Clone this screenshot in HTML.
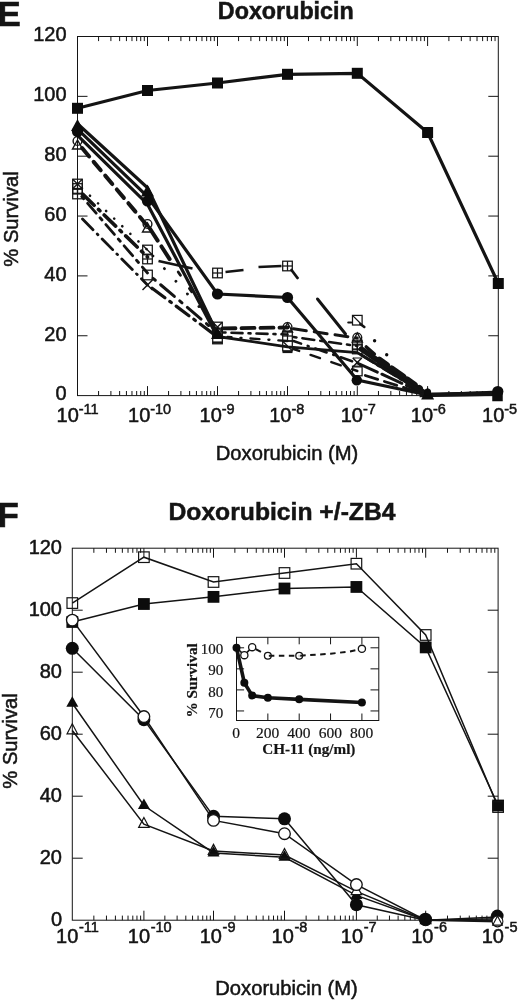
<!DOCTYPE html>
<html><head><meta charset="utf-8"><title>Doxorubicin survival curves</title>
<style>html,body{margin:0;padding:0;background:#fff}svg{display:block}</style>
</head><body>
<svg width="520" height="1002" viewBox="0 0 520 1002">
<rect width="520" height="1002" fill="#fff"/>
<rect x="77.5" y="36.5" width="420.8" height="359.1" fill="none" stroke="#141414" stroke-width="1"/>
<line x1="98.57" y1="36.50" x2="98.57" y2="41.10" stroke="#141414" stroke-width="1" />
<line x1="110.90" y1="36.50" x2="110.90" y2="41.10" stroke="#141414" stroke-width="1" />
<line x1="119.64" y1="36.50" x2="119.64" y2="41.10" stroke="#141414" stroke-width="1" />
<line x1="126.43" y1="36.50" x2="126.43" y2="41.10" stroke="#141414" stroke-width="1" />
<line x1="131.97" y1="36.50" x2="131.97" y2="41.10" stroke="#141414" stroke-width="1" />
<line x1="136.66" y1="36.50" x2="136.66" y2="41.10" stroke="#141414" stroke-width="1" />
<line x1="140.72" y1="36.50" x2="140.72" y2="41.10" stroke="#141414" stroke-width="1" />
<line x1="144.30" y1="36.50" x2="144.30" y2="41.10" stroke="#141414" stroke-width="1" />
<line x1="147.50" y1="36.50" x2="147.50" y2="46.00" stroke="#141414" stroke-width="1" />
<line x1="168.57" y1="36.50" x2="168.57" y2="41.10" stroke="#141414" stroke-width="1" />
<line x1="180.90" y1="36.50" x2="180.90" y2="41.10" stroke="#141414" stroke-width="1" />
<line x1="189.64" y1="36.50" x2="189.64" y2="41.10" stroke="#141414" stroke-width="1" />
<line x1="196.43" y1="36.50" x2="196.43" y2="41.10" stroke="#141414" stroke-width="1" />
<line x1="201.97" y1="36.50" x2="201.97" y2="41.10" stroke="#141414" stroke-width="1" />
<line x1="206.66" y1="36.50" x2="206.66" y2="41.10" stroke="#141414" stroke-width="1" />
<line x1="210.72" y1="36.50" x2="210.72" y2="41.10" stroke="#141414" stroke-width="1" />
<line x1="214.30" y1="36.50" x2="214.30" y2="41.10" stroke="#141414" stroke-width="1" />
<line x1="217.50" y1="36.50" x2="217.50" y2="46.00" stroke="#141414" stroke-width="1" />
<line x1="238.57" y1="36.50" x2="238.57" y2="41.10" stroke="#141414" stroke-width="1" />
<line x1="250.90" y1="36.50" x2="250.90" y2="41.10" stroke="#141414" stroke-width="1" />
<line x1="259.64" y1="36.50" x2="259.64" y2="41.10" stroke="#141414" stroke-width="1" />
<line x1="266.43" y1="36.50" x2="266.43" y2="41.10" stroke="#141414" stroke-width="1" />
<line x1="271.97" y1="36.50" x2="271.97" y2="41.10" stroke="#141414" stroke-width="1" />
<line x1="276.66" y1="36.50" x2="276.66" y2="41.10" stroke="#141414" stroke-width="1" />
<line x1="280.72" y1="36.50" x2="280.72" y2="41.10" stroke="#141414" stroke-width="1" />
<line x1="284.30" y1="36.50" x2="284.30" y2="41.10" stroke="#141414" stroke-width="1" />
<line x1="287.50" y1="36.50" x2="287.50" y2="46.00" stroke="#141414" stroke-width="1" />
<line x1="308.51" y1="36.50" x2="308.51" y2="41.10" stroke="#141414" stroke-width="1" />
<line x1="320.80" y1="36.50" x2="320.80" y2="41.10" stroke="#141414" stroke-width="1" />
<line x1="329.52" y1="36.50" x2="329.52" y2="41.10" stroke="#141414" stroke-width="1" />
<line x1="336.29" y1="36.50" x2="336.29" y2="41.10" stroke="#141414" stroke-width="1" />
<line x1="341.81" y1="36.50" x2="341.81" y2="41.10" stroke="#141414" stroke-width="1" />
<line x1="346.49" y1="36.50" x2="346.49" y2="41.10" stroke="#141414" stroke-width="1" />
<line x1="350.54" y1="36.50" x2="350.54" y2="41.10" stroke="#141414" stroke-width="1" />
<line x1="354.11" y1="36.50" x2="354.11" y2="41.10" stroke="#141414" stroke-width="1" />
<line x1="357.30" y1="36.50" x2="357.30" y2="46.00" stroke="#141414" stroke-width="1" />
<line x1="378.46" y1="36.50" x2="378.46" y2="41.10" stroke="#141414" stroke-width="1" />
<line x1="390.84" y1="36.50" x2="390.84" y2="41.10" stroke="#141414" stroke-width="1" />
<line x1="399.62" y1="36.50" x2="399.62" y2="41.10" stroke="#141414" stroke-width="1" />
<line x1="406.44" y1="36.50" x2="406.44" y2="41.10" stroke="#141414" stroke-width="1" />
<line x1="412.00" y1="36.50" x2="412.00" y2="41.10" stroke="#141414" stroke-width="1" />
<line x1="416.71" y1="36.50" x2="416.71" y2="41.10" stroke="#141414" stroke-width="1" />
<line x1="420.79" y1="36.50" x2="420.79" y2="41.10" stroke="#141414" stroke-width="1" />
<line x1="424.38" y1="36.50" x2="424.38" y2="41.10" stroke="#141414" stroke-width="1" />
<line x1="427.60" y1="36.50" x2="427.60" y2="46.00" stroke="#141414" stroke-width="1" />
<line x1="448.88" y1="36.50" x2="448.88" y2="41.10" stroke="#141414" stroke-width="1" />
<line x1="461.33" y1="36.50" x2="461.33" y2="41.10" stroke="#141414" stroke-width="1" />
<line x1="470.17" y1="36.50" x2="470.17" y2="41.10" stroke="#141414" stroke-width="1" />
<line x1="477.02" y1="36.50" x2="477.02" y2="41.10" stroke="#141414" stroke-width="1" />
<line x1="482.62" y1="36.50" x2="482.62" y2="41.10" stroke="#141414" stroke-width="1" />
<line x1="487.35" y1="36.50" x2="487.35" y2="41.10" stroke="#141414" stroke-width="1" />
<line x1="491.45" y1="36.50" x2="491.45" y2="41.10" stroke="#141414" stroke-width="1" />
<line x1="495.06" y1="36.50" x2="495.06" y2="41.10" stroke="#141414" stroke-width="1" />
<line x1="98.57" y1="395.60" x2="98.57" y2="391.00" stroke="#141414" stroke-width="1" />
<line x1="110.90" y1="395.60" x2="110.90" y2="391.00" stroke="#141414" stroke-width="1" />
<line x1="119.64" y1="395.60" x2="119.64" y2="391.00" stroke="#141414" stroke-width="1" />
<line x1="126.43" y1="395.60" x2="126.43" y2="391.00" stroke="#141414" stroke-width="1" />
<line x1="131.97" y1="395.60" x2="131.97" y2="391.00" stroke="#141414" stroke-width="1" />
<line x1="136.66" y1="395.60" x2="136.66" y2="391.00" stroke="#141414" stroke-width="1" />
<line x1="140.72" y1="395.60" x2="140.72" y2="391.00" stroke="#141414" stroke-width="1" />
<line x1="144.30" y1="395.60" x2="144.30" y2="391.00" stroke="#141414" stroke-width="1" />
<line x1="147.50" y1="395.60" x2="147.50" y2="386.10" stroke="#141414" stroke-width="1" />
<line x1="168.57" y1="395.60" x2="168.57" y2="391.00" stroke="#141414" stroke-width="1" />
<line x1="180.90" y1="395.60" x2="180.90" y2="391.00" stroke="#141414" stroke-width="1" />
<line x1="189.64" y1="395.60" x2="189.64" y2="391.00" stroke="#141414" stroke-width="1" />
<line x1="196.43" y1="395.60" x2="196.43" y2="391.00" stroke="#141414" stroke-width="1" />
<line x1="201.97" y1="395.60" x2="201.97" y2="391.00" stroke="#141414" stroke-width="1" />
<line x1="206.66" y1="395.60" x2="206.66" y2="391.00" stroke="#141414" stroke-width="1" />
<line x1="210.72" y1="395.60" x2="210.72" y2="391.00" stroke="#141414" stroke-width="1" />
<line x1="214.30" y1="395.60" x2="214.30" y2="391.00" stroke="#141414" stroke-width="1" />
<line x1="217.50" y1="395.60" x2="217.50" y2="386.10" stroke="#141414" stroke-width="1" />
<line x1="238.57" y1="395.60" x2="238.57" y2="391.00" stroke="#141414" stroke-width="1" />
<line x1="250.90" y1="395.60" x2="250.90" y2="391.00" stroke="#141414" stroke-width="1" />
<line x1="259.64" y1="395.60" x2="259.64" y2="391.00" stroke="#141414" stroke-width="1" />
<line x1="266.43" y1="395.60" x2="266.43" y2="391.00" stroke="#141414" stroke-width="1" />
<line x1="271.97" y1="395.60" x2="271.97" y2="391.00" stroke="#141414" stroke-width="1" />
<line x1="276.66" y1="395.60" x2="276.66" y2="391.00" stroke="#141414" stroke-width="1" />
<line x1="280.72" y1="395.60" x2="280.72" y2="391.00" stroke="#141414" stroke-width="1" />
<line x1="284.30" y1="395.60" x2="284.30" y2="391.00" stroke="#141414" stroke-width="1" />
<line x1="287.50" y1="395.60" x2="287.50" y2="386.10" stroke="#141414" stroke-width="1" />
<line x1="308.51" y1="395.60" x2="308.51" y2="391.00" stroke="#141414" stroke-width="1" />
<line x1="320.80" y1="395.60" x2="320.80" y2="391.00" stroke="#141414" stroke-width="1" />
<line x1="329.52" y1="395.60" x2="329.52" y2="391.00" stroke="#141414" stroke-width="1" />
<line x1="336.29" y1="395.60" x2="336.29" y2="391.00" stroke="#141414" stroke-width="1" />
<line x1="341.81" y1="395.60" x2="341.81" y2="391.00" stroke="#141414" stroke-width="1" />
<line x1="346.49" y1="395.60" x2="346.49" y2="391.00" stroke="#141414" stroke-width="1" />
<line x1="350.54" y1="395.60" x2="350.54" y2="391.00" stroke="#141414" stroke-width="1" />
<line x1="354.11" y1="395.60" x2="354.11" y2="391.00" stroke="#141414" stroke-width="1" />
<line x1="357.30" y1="395.60" x2="357.30" y2="386.10" stroke="#141414" stroke-width="1" />
<line x1="378.46" y1="395.60" x2="378.46" y2="391.00" stroke="#141414" stroke-width="1" />
<line x1="390.84" y1="395.60" x2="390.84" y2="391.00" stroke="#141414" stroke-width="1" />
<line x1="399.62" y1="395.60" x2="399.62" y2="391.00" stroke="#141414" stroke-width="1" />
<line x1="406.44" y1="395.60" x2="406.44" y2="391.00" stroke="#141414" stroke-width="1" />
<line x1="412.00" y1="395.60" x2="412.00" y2="391.00" stroke="#141414" stroke-width="1" />
<line x1="416.71" y1="395.60" x2="416.71" y2="391.00" stroke="#141414" stroke-width="1" />
<line x1="420.79" y1="395.60" x2="420.79" y2="391.00" stroke="#141414" stroke-width="1" />
<line x1="424.38" y1="395.60" x2="424.38" y2="391.00" stroke="#141414" stroke-width="1" />
<line x1="427.60" y1="395.60" x2="427.60" y2="386.10" stroke="#141414" stroke-width="1" />
<line x1="448.88" y1="395.60" x2="448.88" y2="391.00" stroke="#141414" stroke-width="1" />
<line x1="461.33" y1="395.60" x2="461.33" y2="391.00" stroke="#141414" stroke-width="1" />
<line x1="470.17" y1="395.60" x2="470.17" y2="391.00" stroke="#141414" stroke-width="1" />
<line x1="477.02" y1="395.60" x2="477.02" y2="391.00" stroke="#141414" stroke-width="1" />
<line x1="482.62" y1="395.60" x2="482.62" y2="391.00" stroke="#141414" stroke-width="1" />
<line x1="487.35" y1="395.60" x2="487.35" y2="391.00" stroke="#141414" stroke-width="1" />
<line x1="491.45" y1="395.60" x2="491.45" y2="391.00" stroke="#141414" stroke-width="1" />
<line x1="495.06" y1="395.60" x2="495.06" y2="391.00" stroke="#141414" stroke-width="1" />
<line x1="77.50" y1="335.75" x2="87.50" y2="335.75" stroke="#141414" stroke-width="1" />
<line x1="498.30" y1="335.75" x2="488.30" y2="335.75" stroke="#141414" stroke-width="1" />
<line x1="77.50" y1="275.90" x2="87.50" y2="275.90" stroke="#141414" stroke-width="1" />
<line x1="498.30" y1="275.90" x2="488.30" y2="275.90" stroke="#141414" stroke-width="1" />
<line x1="77.50" y1="216.05" x2="87.50" y2="216.05" stroke="#141414" stroke-width="1" />
<line x1="498.30" y1="216.05" x2="488.30" y2="216.05" stroke="#141414" stroke-width="1" />
<line x1="77.50" y1="156.20" x2="87.50" y2="156.20" stroke="#141414" stroke-width="1" />
<line x1="498.30" y1="156.20" x2="488.30" y2="156.20" stroke="#141414" stroke-width="1" />
<line x1="77.50" y1="96.35" x2="87.50" y2="96.35" stroke="#141414" stroke-width="1" />
<line x1="498.30" y1="96.35" x2="488.30" y2="96.35" stroke="#141414" stroke-width="1" />
<text x="66.60" y="400.40" font-size="20" text-anchor="end" font-weight="normal" font-family="Liberation Sans, Arial, Helvetica, sans-serif" fill="#141414" stroke="#141414" stroke-width="0.5" >0</text>
<text x="66.60" y="340.55" font-size="20" text-anchor="end" font-weight="normal" font-family="Liberation Sans, Arial, Helvetica, sans-serif" fill="#141414" stroke="#141414" stroke-width="0.5" >20</text>
<text x="66.60" y="280.70" font-size="20" text-anchor="end" font-weight="normal" font-family="Liberation Sans, Arial, Helvetica, sans-serif" fill="#141414" stroke="#141414" stroke-width="0.5" >40</text>
<text x="66.60" y="220.85" font-size="20" text-anchor="end" font-weight="normal" font-family="Liberation Sans, Arial, Helvetica, sans-serif" fill="#141414" stroke="#141414" stroke-width="0.5" >60</text>
<text x="66.60" y="161.00" font-size="20" text-anchor="end" font-weight="normal" font-family="Liberation Sans, Arial, Helvetica, sans-serif" fill="#141414" stroke="#141414" stroke-width="0.5" >80</text>
<text x="66.60" y="101.15" font-size="20" text-anchor="end" font-weight="normal" font-family="Liberation Sans, Arial, Helvetica, sans-serif" fill="#141414" stroke="#141414" stroke-width="0.5" >100</text>
<text x="66.60" y="41.30" font-size="20" text-anchor="end" font-weight="normal" font-family="Liberation Sans, Arial, Helvetica, sans-serif" fill="#141414" stroke="#141414" stroke-width="0.5" >120</text>
<text x="78.80" y="421.80" font-size="20" text-anchor="end" font-weight="normal" font-family="Liberation Sans, Arial, Helvetica, sans-serif" fill="#141414" stroke="#141414" stroke-width="0.5" >10</text>
<text x="78.70" y="413.80" font-size="14.5" text-anchor="start" font-weight="normal" font-family="Liberation Sans, Arial, Helvetica, sans-serif" fill="#141414" stroke="#141414" stroke-width="0.5" >-11</text>
<text x="150.30" y="421.80" font-size="20" text-anchor="end" font-weight="normal" font-family="Liberation Sans, Arial, Helvetica, sans-serif" fill="#141414" stroke="#141414" stroke-width="0.5" >10</text>
<text x="150.20" y="413.80" font-size="14.5" text-anchor="start" font-weight="normal" font-family="Liberation Sans, Arial, Helvetica, sans-serif" fill="#141414" stroke="#141414" stroke-width="0.5" >-10</text>
<text x="221.80" y="421.80" font-size="20" text-anchor="end" font-weight="normal" font-family="Liberation Sans, Arial, Helvetica, sans-serif" fill="#141414" stroke="#141414" stroke-width="0.5" >10</text>
<text x="221.70" y="413.80" font-size="14.5" text-anchor="start" font-weight="normal" font-family="Liberation Sans, Arial, Helvetica, sans-serif" fill="#141414" stroke="#141414" stroke-width="0.5" >-9</text>
<text x="291.50" y="421.80" font-size="20" text-anchor="end" font-weight="normal" font-family="Liberation Sans, Arial, Helvetica, sans-serif" fill="#141414" stroke="#141414" stroke-width="0.5" >10</text>
<text x="291.40" y="413.80" font-size="14.5" text-anchor="start" font-weight="normal" font-family="Liberation Sans, Arial, Helvetica, sans-serif" fill="#141414" stroke="#141414" stroke-width="0.5" >-8</text>
<text x="363.00" y="421.80" font-size="20" text-anchor="end" font-weight="normal" font-family="Liberation Sans, Arial, Helvetica, sans-serif" fill="#141414" stroke="#141414" stroke-width="0.5" >10</text>
<text x="362.90" y="413.80" font-size="14.5" text-anchor="start" font-weight="normal" font-family="Liberation Sans, Arial, Helvetica, sans-serif" fill="#141414" stroke="#141414" stroke-width="0.5" >-7</text>
<text x="433.10" y="421.80" font-size="20" text-anchor="end" font-weight="normal" font-family="Liberation Sans, Arial, Helvetica, sans-serif" fill="#141414" stroke="#141414" stroke-width="0.5" >10</text>
<text x="433.00" y="413.80" font-size="14.5" text-anchor="start" font-weight="normal" font-family="Liberation Sans, Arial, Helvetica, sans-serif" fill="#141414" stroke="#141414" stroke-width="0.5" >-6</text>
<text x="504.30" y="421.80" font-size="20" text-anchor="end" font-weight="normal" font-family="Liberation Sans, Arial, Helvetica, sans-serif" fill="#141414" stroke="#141414" stroke-width="0.5" >10</text>
<text x="504.20" y="413.80" font-size="14.5" text-anchor="start" font-weight="normal" font-family="Liberation Sans, Arial, Helvetica, sans-serif" fill="#141414" stroke="#141414" stroke-width="0.5" >-5</text>
<text x="-2.50" y="26.00" font-size="35" text-anchor="start" font-weight="bold" font-family="Liberation Sans, Arial, Helvetica, sans-serif" fill="#141414" stroke="#141414" stroke-width="0.5" >E</text>
<text x="285.80" y="18.80" font-size="23.3" text-anchor="middle" font-weight="bold" font-family="Liberation Sans, Arial, Helvetica, sans-serif" fill="#141414" stroke="#141414" stroke-width="0.5" >Doxorubicin</text>
<text x="287.00" y="459.60" font-size="20.2" text-anchor="middle" font-weight="normal" font-family="Liberation Sans, Arial, Helvetica, sans-serif" fill="#141414" stroke="#141414" stroke-width="0.5" >Doxorubicin (M)</text>
<text transform="translate(18.00,219.00) rotate(-90)" font-size="20.2" text-anchor="middle" font-weight="normal" font-family="Liberation Sans, Arial, Helvetica, sans-serif" fill="#141414" stroke="#141414" stroke-width="0.5">% Survival</text>
<polyline points="77.50,184.00 147.50,250.00" fill="none" stroke="#141414" stroke-width="2.6" stroke-linecap="round" stroke-linejoin="miter" stroke-dasharray="0.1 11" stroke-dashoffset="-6"/>
<polyline points="80.50,192.00 147.50,257.00" fill="none" stroke="#141414" stroke-width="3.6" stroke-linecap="round" stroke-linejoin="miter" stroke-dasharray="16 6 2 6" stroke-dashoffset="-3"/>
<polyline points="80.50,195.00 147.50,273.00" fill="none" stroke="#141414" stroke-width="2.8" stroke-linecap="round" stroke-linejoin="miter" stroke-dasharray="3 6 13 6" stroke-dashoffset="-2"/>
<polyline points="82.50,219.00 147.50,285.00" fill="none" stroke="#141414" stroke-width="2.8" stroke-linecap="round" stroke-linejoin="miter" stroke-dasharray="15 6 1 6" stroke-dashoffset="0"/>
<polyline points="147.50,250.00 217.50,327.00" fill="none" stroke="#141414" stroke-width="2.8" stroke-linecap="round" stroke-linejoin="miter" stroke-dasharray="0.1 17" stroke-dashoffset="-8"/>
<polyline points="158.50,261.00 192.50,268.50" fill="none" stroke="#141414" stroke-width="2.6" stroke-linecap="butt" stroke-linejoin="miter"/>
<polyline points="151.50,277.00 217.50,333.00" fill="none" stroke="#141414" stroke-width="3" stroke-linecap="round" stroke-linejoin="miter" stroke-dasharray="3 7 18 7" stroke-dashoffset="-2"/>
<polyline points="150.50,287.00 217.50,337.00" fill="none" stroke="#141414" stroke-width="3.2" stroke-linecap="round" stroke-linejoin="miter" stroke-dasharray="16 6 2 6" stroke-dashoffset="-2"/>
<polyline points="225.50,272.00 243.50,270.00" fill="none" stroke="#141414" stroke-width="2.6" stroke-linecap="butt" stroke-linejoin="miter"/>
<polyline points="258.50,267.00 281.50,266.00" fill="none" stroke="#141414" stroke-width="2.6" stroke-linecap="butt" stroke-linejoin="miter"/>
<polyline points="223.50,332.50 287.50,334.50" fill="none" stroke="#141414" stroke-width="2.6" stroke-linecap="round" stroke-linejoin="miter" stroke-dasharray="2 6 11 6" stroke-dashoffset="0"/>
<polyline points="227.50,337.00 287.50,341.00" fill="none" stroke="#141414" stroke-width="2.4" stroke-linecap="round" stroke-linejoin="miter" stroke-dasharray="9 9 1 9" stroke-dashoffset="5"/>
<polyline points="291.50,270.00 297.50,278.00" fill="none" stroke="#141414" stroke-width="2.8" stroke-linecap="round" stroke-linejoin="miter"/>
<polyline points="317.50,299.00 345.50,334.00" fill="none" stroke="#141414" stroke-width="3" stroke-linecap="round" stroke-linejoin="miter"/>
<polyline points="293.50,337.00 357.30,346.00" fill="none" stroke="#141414" stroke-width="2.6" stroke-linecap="round" stroke-linejoin="miter" stroke-dasharray="3 6 12 6" stroke-dashoffset="0"/>
<polyline points="293.50,341.00 357.30,363.00" fill="none" stroke="#141414" stroke-width="2.6" stroke-linecap="round" stroke-linejoin="miter" stroke-dasharray="12 7 1 7" stroke-dashoffset="4"/>
<polyline points="293.50,349.00 357.30,371.00" fill="none" stroke="#141414" stroke-width="2.4" stroke-linecap="round" stroke-linejoin="miter" stroke-dasharray="10 12" stroke-dashoffset="4"/>
<polyline points="348.30,322.50 351.30,322.50" fill="none" stroke="#141414" stroke-width="2.2" stroke-linecap="round" stroke-linejoin="miter"/>
<polyline points="360.30,324.00 364.30,327.00" fill="none" stroke="#141414" stroke-width="2.6" stroke-linecap="round" stroke-linejoin="miter"/>
<circle cx="374.60" cy="340.80" r="1.7" fill="#0c0c0c"/>
<circle cx="386.70" cy="354.80" r="1.7" fill="#0c0c0c"/>
<polyline points="366.30,347.00 374.30,354.00" fill="none" stroke="#141414" stroke-width="3.6" stroke-linecap="round" stroke-linejoin="miter"/>
<polyline points="361.30,349.00 427.60,395.00" fill="none" stroke="#141414" stroke-width="5.4" stroke-linecap="round" stroke-linejoin="miter" stroke-dasharray="18 3 6 3" stroke-dashoffset="0"/>
<polyline points="379.30,360.00 419.60,388.50" fill="none" stroke="#141414" stroke-width="6.6" stroke-linecap="round" stroke-linejoin="miter" stroke-dasharray="9 6 14 5" stroke-dashoffset="0"/>
<polyline points="361.30,355.00 427.60,395.00" fill="none" stroke="#141414" stroke-width="3.2" stroke-linecap="round" stroke-linejoin="miter" stroke-dasharray="14 5 2 5" stroke-dashoffset="0"/>
<polyline points="357.30,363.00 427.60,395.00" fill="none" stroke="#141414" stroke-width="3" stroke-linecap="round" stroke-linejoin="miter" stroke-dasharray="22 5" stroke-dashoffset="0"/>
<polyline points="365.30,375.50 427.60,395.00" fill="none" stroke="#141414" stroke-width="2.8" stroke-linecap="round" stroke-linejoin="miter" stroke-dasharray="13 7" stroke-dashoffset="0"/>
<polyline points="79.50,145.00 147.50,226.00" fill="none" stroke="#141414" stroke-width="4" stroke-linecap="round" stroke-linejoin="miter" stroke-dasharray="11 7" stroke-dashoffset="-4"/>
<polyline points="149.50,228.00 171.50,262.00" fill="none" stroke="#141414" stroke-width="4" stroke-linecap="round" stroke-linejoin="miter" stroke-dasharray="15 7" stroke-dashoffset="0"/>
<polyline points="171.50,262.00 217.50,330.00" fill="none" stroke="#141414" stroke-width="2.8" stroke-linecap="round" stroke-linejoin="miter" stroke-dasharray="4 16" stroke-dashoffset="-12"/>
<polyline points="217.50,328.50 287.50,327.50" fill="none" stroke="#141414" stroke-width="3.8" stroke-linecap="round" stroke-linejoin="miter" stroke-dasharray="13 6" stroke-dashoffset="-5"/>
<polyline points="287.50,328.00 357.30,338.00" fill="none" stroke="#141414" stroke-width="3" stroke-linecap="round" stroke-linejoin="miter" stroke-dasharray="13 8" stroke-dashoffset="-6"/>
<polyline points="77.50,123.70 147.50,187.80 217.50,334.00" fill="none" stroke="#141414" stroke-width="3.2" stroke-linecap="butt" stroke-linejoin="miter"/>
<polyline points="217.50,336.50 287.50,346.80 357.30,352.50 427.60,395.00 498.30,394.50" fill="none" stroke="#141414" stroke-width="2.8" stroke-linecap="butt" stroke-linejoin="miter"/>
<polyline points="77.50,135.30 147.50,204.20 217.50,337.00" fill="none" stroke="#141414" stroke-width="3.2" stroke-linecap="butt" stroke-linejoin="miter"/>
<polyline points="77.50,129.20 147.50,196.60 217.50,294.00 287.50,297.50 357.30,380.00 427.60,395.00 498.30,392.00" fill="none" stroke="#141414" stroke-width="3.2" stroke-linecap="butt" stroke-linejoin="miter"/>
<polyline points="419.60,395.00 498.30,393.50" fill="none" stroke="#141414" stroke-width="4.5" stroke-linecap="butt" stroke-linejoin="miter"/>
<polyline points="77.50,108.30 147.50,90.50 217.50,83.00 287.50,74.30 357.30,73.30 427.60,132.50 498.30,283.50" fill="none" stroke="#141414" stroke-width="3.2" stroke-linecap="butt" stroke-linejoin="miter"/>
<rect x="72.70" y="183.70" width="9.6" height="9.6" fill="none" stroke="#141414" stroke-width="1.25"/>
<line x1="72.70" y1="188.50" x2="82.30" y2="188.50" stroke="#141414" stroke-width="1.25" />
<line x1="77.50" y1="183.70" x2="77.50" y2="193.30" stroke="#141414" stroke-width="1.25" />
<rect x="72.70" y="189.20" width="9.6" height="9.6" fill="none" stroke="#141414" stroke-width="1.25"/>
<line x1="72.70" y1="194.00" x2="82.30" y2="194.00" stroke="#141414" stroke-width="1.25" />
<line x1="77.50" y1="189.20" x2="77.50" y2="198.80" stroke="#141414" stroke-width="1.25" />
<rect x="142.70" y="254.20" width="9.6" height="9.6" fill="none" stroke="#141414" stroke-width="1.25"/>
<line x1="142.70" y1="259.00" x2="152.30" y2="259.00" stroke="#141414" stroke-width="1.25" />
<line x1="147.50" y1="254.20" x2="147.50" y2="263.80" stroke="#141414" stroke-width="1.25" />
<rect x="212.70" y="268.20" width="9.6" height="9.6" fill="none" stroke="#141414" stroke-width="1.25"/>
<line x1="212.70" y1="273.00" x2="222.30" y2="273.00" stroke="#141414" stroke-width="1.25" />
<line x1="217.50" y1="268.20" x2="217.50" y2="277.80" stroke="#141414" stroke-width="1.25" />
<rect x="282.70" y="261.20" width="9.6" height="9.6" fill="none" stroke="#141414" stroke-width="1.25"/>
<line x1="282.70" y1="266.00" x2="292.30" y2="266.00" stroke="#141414" stroke-width="1.25" />
<line x1="287.50" y1="261.20" x2="287.50" y2="270.80" stroke="#141414" stroke-width="1.25" />
<rect x="352.50" y="340.20" width="9.6" height="9.6" fill="none" stroke="#141414" stroke-width="1.25"/>
<line x1="352.50" y1="345.00" x2="362.10" y2="345.00" stroke="#141414" stroke-width="1.25" />
<line x1="357.30" y1="340.20" x2="357.30" y2="349.80" stroke="#141414" stroke-width="1.25" />
<rect x="352.50" y="344.20" width="9.6" height="9.6" fill="none" stroke="#141414" stroke-width="1.25"/>
<line x1="352.50" y1="349.00" x2="362.10" y2="349.00" stroke="#141414" stroke-width="1.25" />
<line x1="357.30" y1="344.20" x2="357.30" y2="353.80" stroke="#141414" stroke-width="1.25" />
<rect x="212.70" y="328.20" width="9.6" height="9.6" fill="none" stroke="#141414" stroke-width="1.25"/>
<line x1="212.70" y1="333.00" x2="222.30" y2="333.00" stroke="#141414" stroke-width="1.25" />
<line x1="217.50" y1="328.20" x2="217.50" y2="337.80" stroke="#141414" stroke-width="1.25" />
<rect x="282.70" y="331.20" width="9.6" height="9.6" fill="none" stroke="#141414" stroke-width="1.25"/>
<line x1="282.70" y1="336.00" x2="292.30" y2="336.00" stroke="#141414" stroke-width="1.25" />
<line x1="287.50" y1="331.20" x2="287.50" y2="340.80" stroke="#141414" stroke-width="1.25" />
<rect x="72.70" y="179.20" width="9.6" height="9.6" fill="none" stroke="#141414" stroke-width="1.25"/>
<line x1="72.70" y1="179.20" x2="82.30" y2="188.80" stroke="#141414" stroke-width="1.25" />
<line x1="72.70" y1="188.80" x2="82.30" y2="179.20" stroke="#141414" stroke-width="1.25" />
<rect x="212.70" y="322.20" width="9.6" height="9.6" fill="none" stroke="#141414" stroke-width="1.25"/>
<line x1="212.70" y1="322.20" x2="222.30" y2="331.80" stroke="#141414" stroke-width="1.25" />
<line x1="212.70" y1="331.80" x2="222.30" y2="322.20" stroke="#141414" stroke-width="1.25" />
<line x1="142.50" y1="280.00" x2="152.50" y2="290.00" stroke="#141414" stroke-width="1.5" />
<line x1="142.50" y1="290.00" x2="152.50" y2="280.00" stroke="#141414" stroke-width="1.5" />
<line x1="352.80" y1="358.00" x2="361.80" y2="367.00" stroke="#141414" stroke-width="1.5" />
<line x1="352.80" y1="367.00" x2="361.80" y2="358.00" stroke="#141414" stroke-width="1.5" />
<line x1="352.80" y1="358.00" x2="361.80" y2="358.00" stroke="#141414" stroke-width="1" />
<line x1="352.80" y1="367.00" x2="361.80" y2="367.00" stroke="#141414" stroke-width="1" />
<rect x="142.70" y="245.20" width="9.6" height="9.6" fill="none" stroke="#141414" stroke-width="1.25"/>
<line x1="142.70" y1="245.20" x2="152.30" y2="254.80" stroke="#141414" stroke-width="1.25" />
<rect x="282.70" y="341.20" width="9.6" height="9.6" fill="none" stroke="#141414" stroke-width="1.25"/>
<line x1="282.70" y1="341.20" x2="292.30" y2="350.80" stroke="#141414" stroke-width="1.25" />
<rect x="352.50" y="315.40" width="9.6" height="9.6" fill="none" stroke="#141414" stroke-width="1.25"/>
<line x1="352.50" y1="315.40" x2="362.10" y2="325.00" stroke="#141414" stroke-width="1.25" />
<rect x="142.70" y="270.20" width="9.6" height="9.6" fill="none" stroke="#141414" stroke-width="1.25"/>
<rect x="212.70" y="334.20" width="9.6" height="9.6" fill="none" stroke="#141414" stroke-width="1.25"/>
<rect x="352.50" y="366.20" width="9.6" height="9.6" fill="none" stroke="#141414" stroke-width="1.25"/>
<line x1="212.50" y1="342.50" x2="222.50" y2="342.50" stroke="#141414" stroke-width="2.2" />
<line x1="282.50" y1="352.00" x2="292.50" y2="352.00" stroke="#141414" stroke-width="2.2" />
<circle cx="77.50" cy="141.00" r="4.4" fill="none" stroke="#141414" stroke-width="1.4"/>
<circle cx="147.50" cy="224.00" r="4.4" fill="none" stroke="#141414" stroke-width="1.4"/>
<circle cx="287.50" cy="327.00" r="4.4" fill="none" stroke="#141414" stroke-width="1.4"/>
<circle cx="357.30" cy="337.50" r="4.4" fill="none" stroke="#141414" stroke-width="1.4"/>
<polygon points="77.50,140.00 72.50,149.00 82.50,149.00" fill="none" stroke="#141414" stroke-width="1.4"/>
<polygon points="147.50,223.00 142.50,232.00 152.50,232.00" fill="none" stroke="#141414" stroke-width="1.4"/>
<polygon points="287.50,323.00 282.50,332.00 292.50,332.00" fill="none" stroke="#141414" stroke-width="1.4"/>
<polygon points="357.30,333.00 352.30,342.00 362.30,342.00" fill="none" stroke="#141414" stroke-width="1.4"/>
<polygon points="77.50,119.00 71.00,131.00 84.00,131.00" fill="#0c0c0c"/>
<polygon points="147.50,184.50 141.00,196.50 154.00,196.50" fill="#0c0c0c"/>
<polygon points="217.50,327.00 211.00,339.00 224.00,339.00" fill="#0c0c0c"/>
<polygon points="427.60,387.50 421.10,399.50 434.10,399.50" fill="#0c0c0c"/>
<circle cx="77.50" cy="131.50" r="5.6" fill="#0c0c0c"/>
<circle cx="147.50" cy="201.00" r="5.6" fill="#0c0c0c"/>
<circle cx="217.50" cy="294.00" r="5.6" fill="#0c0c0c"/>
<circle cx="287.50" cy="297.50" r="5.6" fill="#0c0c0c"/>
<circle cx="497.80" cy="391.50" r="5.6" fill="#0c0c0c"/>
<rect x="492.25" y="390.75" width="10.5" height="10.5" fill="#0c0c0c"/>
<circle cx="427.60" cy="392.00" r="3.5" fill="#0c0c0c"/>
<circle cx="356.80" cy="380.30" r="5.2" fill="#0c0c0c"/>
<rect x="72.00" y="102.80" width="11" height="11" fill="#0c0c0c"/>
<rect x="142.00" y="85.00" width="11" height="11" fill="#0c0c0c"/>
<rect x="212.00" y="77.50" width="11" height="11" fill="#0c0c0c"/>
<rect x="282.00" y="68.80" width="11" height="11" fill="#0c0c0c"/>
<rect x="351.80" y="67.80" width="11" height="11" fill="#0c0c0c"/>
<rect x="422.10" y="127.00" width="11" height="11" fill="#0c0c0c"/>
<rect x="492.80" y="278.00" width="11" height="11" fill="#0c0c0c"/>
<rect x="72.3" y="548.2" width="425.8" height="372.0" fill="none" stroke="#141414" stroke-width="1"/>
<line x1="93.85" y1="548.20" x2="93.85" y2="552.80" stroke="#141414" stroke-width="1" />
<line x1="106.46" y1="548.20" x2="106.46" y2="552.80" stroke="#141414" stroke-width="1" />
<line x1="115.41" y1="548.20" x2="115.41" y2="552.80" stroke="#141414" stroke-width="1" />
<line x1="122.35" y1="548.20" x2="122.35" y2="552.80" stroke="#141414" stroke-width="1" />
<line x1="128.02" y1="548.20" x2="128.02" y2="552.80" stroke="#141414" stroke-width="1" />
<line x1="132.81" y1="548.20" x2="132.81" y2="552.80" stroke="#141414" stroke-width="1" />
<line x1="136.96" y1="548.20" x2="136.96" y2="552.80" stroke="#141414" stroke-width="1" />
<line x1="140.62" y1="548.20" x2="140.62" y2="552.80" stroke="#141414" stroke-width="1" />
<line x1="143.90" y1="548.20" x2="143.90" y2="557.70" stroke="#141414" stroke-width="1" />
<line x1="164.85" y1="548.20" x2="164.85" y2="552.80" stroke="#141414" stroke-width="1" />
<line x1="177.11" y1="548.20" x2="177.11" y2="552.80" stroke="#141414" stroke-width="1" />
<line x1="185.80" y1="548.20" x2="185.80" y2="552.80" stroke="#141414" stroke-width="1" />
<line x1="192.55" y1="548.20" x2="192.55" y2="552.80" stroke="#141414" stroke-width="1" />
<line x1="198.06" y1="548.20" x2="198.06" y2="552.80" stroke="#141414" stroke-width="1" />
<line x1="202.72" y1="548.20" x2="202.72" y2="552.80" stroke="#141414" stroke-width="1" />
<line x1="206.76" y1="548.20" x2="206.76" y2="552.80" stroke="#141414" stroke-width="1" />
<line x1="210.32" y1="548.20" x2="210.32" y2="552.80" stroke="#141414" stroke-width="1" />
<line x1="213.50" y1="548.20" x2="213.50" y2="557.70" stroke="#141414" stroke-width="1" />
<line x1="234.87" y1="548.20" x2="234.87" y2="552.80" stroke="#141414" stroke-width="1" />
<line x1="247.38" y1="548.20" x2="247.38" y2="552.80" stroke="#141414" stroke-width="1" />
<line x1="256.25" y1="548.20" x2="256.25" y2="552.80" stroke="#141414" stroke-width="1" />
<line x1="263.13" y1="548.20" x2="263.13" y2="552.80" stroke="#141414" stroke-width="1" />
<line x1="268.75" y1="548.20" x2="268.75" y2="552.80" stroke="#141414" stroke-width="1" />
<line x1="273.50" y1="548.20" x2="273.50" y2="552.80" stroke="#141414" stroke-width="1" />
<line x1="277.62" y1="548.20" x2="277.62" y2="552.80" stroke="#141414" stroke-width="1" />
<line x1="281.25" y1="548.20" x2="281.25" y2="552.80" stroke="#141414" stroke-width="1" />
<line x1="284.50" y1="548.20" x2="284.50" y2="557.70" stroke="#141414" stroke-width="1" />
<line x1="306.14" y1="548.20" x2="306.14" y2="552.80" stroke="#141414" stroke-width="1" />
<line x1="318.81" y1="548.20" x2="318.81" y2="552.80" stroke="#141414" stroke-width="1" />
<line x1="327.79" y1="548.20" x2="327.79" y2="552.80" stroke="#141414" stroke-width="1" />
<line x1="334.76" y1="548.20" x2="334.76" y2="552.80" stroke="#141414" stroke-width="1" />
<line x1="340.45" y1="548.20" x2="340.45" y2="552.80" stroke="#141414" stroke-width="1" />
<line x1="345.26" y1="548.20" x2="345.26" y2="552.80" stroke="#141414" stroke-width="1" />
<line x1="349.43" y1="548.20" x2="349.43" y2="552.80" stroke="#141414" stroke-width="1" />
<line x1="353.11" y1="548.20" x2="353.11" y2="552.80" stroke="#141414" stroke-width="1" />
<line x1="356.40" y1="548.20" x2="356.40" y2="557.70" stroke="#141414" stroke-width="1" />
<line x1="377.26" y1="548.20" x2="377.26" y2="552.80" stroke="#141414" stroke-width="1" />
<line x1="389.46" y1="548.20" x2="389.46" y2="552.80" stroke="#141414" stroke-width="1" />
<line x1="398.12" y1="548.20" x2="398.12" y2="552.80" stroke="#141414" stroke-width="1" />
<line x1="404.84" y1="548.20" x2="404.84" y2="552.80" stroke="#141414" stroke-width="1" />
<line x1="410.33" y1="548.20" x2="410.33" y2="552.80" stroke="#141414" stroke-width="1" />
<line x1="414.97" y1="548.20" x2="414.97" y2="552.80" stroke="#141414" stroke-width="1" />
<line x1="418.98" y1="548.20" x2="418.98" y2="552.80" stroke="#141414" stroke-width="1" />
<line x1="422.53" y1="548.20" x2="422.53" y2="552.80" stroke="#141414" stroke-width="1" />
<line x1="425.70" y1="548.20" x2="425.70" y2="557.70" stroke="#141414" stroke-width="1" />
<line x1="447.49" y1="548.20" x2="447.49" y2="552.80" stroke="#141414" stroke-width="1" />
<line x1="460.24" y1="548.20" x2="460.24" y2="552.80" stroke="#141414" stroke-width="1" />
<line x1="469.29" y1="548.20" x2="469.29" y2="552.80" stroke="#141414" stroke-width="1" />
<line x1="476.31" y1="548.20" x2="476.31" y2="552.80" stroke="#141414" stroke-width="1" />
<line x1="482.04" y1="548.20" x2="482.04" y2="552.80" stroke="#141414" stroke-width="1" />
<line x1="486.89" y1="548.20" x2="486.89" y2="552.80" stroke="#141414" stroke-width="1" />
<line x1="491.08" y1="548.20" x2="491.08" y2="552.80" stroke="#141414" stroke-width="1" />
<line x1="494.79" y1="548.20" x2="494.79" y2="552.80" stroke="#141414" stroke-width="1" />
<line x1="93.85" y1="920.20" x2="93.85" y2="915.60" stroke="#141414" stroke-width="1" />
<line x1="106.46" y1="920.20" x2="106.46" y2="915.60" stroke="#141414" stroke-width="1" />
<line x1="115.41" y1="920.20" x2="115.41" y2="915.60" stroke="#141414" stroke-width="1" />
<line x1="122.35" y1="920.20" x2="122.35" y2="915.60" stroke="#141414" stroke-width="1" />
<line x1="128.02" y1="920.20" x2="128.02" y2="915.60" stroke="#141414" stroke-width="1" />
<line x1="132.81" y1="920.20" x2="132.81" y2="915.60" stroke="#141414" stroke-width="1" />
<line x1="136.96" y1="920.20" x2="136.96" y2="915.60" stroke="#141414" stroke-width="1" />
<line x1="140.62" y1="920.20" x2="140.62" y2="915.60" stroke="#141414" stroke-width="1" />
<line x1="143.90" y1="920.20" x2="143.90" y2="910.70" stroke="#141414" stroke-width="1" />
<line x1="164.85" y1="920.20" x2="164.85" y2="915.60" stroke="#141414" stroke-width="1" />
<line x1="177.11" y1="920.20" x2="177.11" y2="915.60" stroke="#141414" stroke-width="1" />
<line x1="185.80" y1="920.20" x2="185.80" y2="915.60" stroke="#141414" stroke-width="1" />
<line x1="192.55" y1="920.20" x2="192.55" y2="915.60" stroke="#141414" stroke-width="1" />
<line x1="198.06" y1="920.20" x2="198.06" y2="915.60" stroke="#141414" stroke-width="1" />
<line x1="202.72" y1="920.20" x2="202.72" y2="915.60" stroke="#141414" stroke-width="1" />
<line x1="206.76" y1="920.20" x2="206.76" y2="915.60" stroke="#141414" stroke-width="1" />
<line x1="210.32" y1="920.20" x2="210.32" y2="915.60" stroke="#141414" stroke-width="1" />
<line x1="213.50" y1="920.20" x2="213.50" y2="910.70" stroke="#141414" stroke-width="1" />
<line x1="234.87" y1="920.20" x2="234.87" y2="915.60" stroke="#141414" stroke-width="1" />
<line x1="247.38" y1="920.20" x2="247.38" y2="915.60" stroke="#141414" stroke-width="1" />
<line x1="256.25" y1="920.20" x2="256.25" y2="915.60" stroke="#141414" stroke-width="1" />
<line x1="263.13" y1="920.20" x2="263.13" y2="915.60" stroke="#141414" stroke-width="1" />
<line x1="268.75" y1="920.20" x2="268.75" y2="915.60" stroke="#141414" stroke-width="1" />
<line x1="273.50" y1="920.20" x2="273.50" y2="915.60" stroke="#141414" stroke-width="1" />
<line x1="277.62" y1="920.20" x2="277.62" y2="915.60" stroke="#141414" stroke-width="1" />
<line x1="281.25" y1="920.20" x2="281.25" y2="915.60" stroke="#141414" stroke-width="1" />
<line x1="284.50" y1="920.20" x2="284.50" y2="910.70" stroke="#141414" stroke-width="1" />
<line x1="306.14" y1="920.20" x2="306.14" y2="915.60" stroke="#141414" stroke-width="1" />
<line x1="318.81" y1="920.20" x2="318.81" y2="915.60" stroke="#141414" stroke-width="1" />
<line x1="327.79" y1="920.20" x2="327.79" y2="915.60" stroke="#141414" stroke-width="1" />
<line x1="334.76" y1="920.20" x2="334.76" y2="915.60" stroke="#141414" stroke-width="1" />
<line x1="340.45" y1="920.20" x2="340.45" y2="915.60" stroke="#141414" stroke-width="1" />
<line x1="345.26" y1="920.20" x2="345.26" y2="915.60" stroke="#141414" stroke-width="1" />
<line x1="349.43" y1="920.20" x2="349.43" y2="915.60" stroke="#141414" stroke-width="1" />
<line x1="353.11" y1="920.20" x2="353.11" y2="915.60" stroke="#141414" stroke-width="1" />
<line x1="356.40" y1="920.20" x2="356.40" y2="910.70" stroke="#141414" stroke-width="1" />
<line x1="377.26" y1="920.20" x2="377.26" y2="915.60" stroke="#141414" stroke-width="1" />
<line x1="389.46" y1="920.20" x2="389.46" y2="915.60" stroke="#141414" stroke-width="1" />
<line x1="398.12" y1="920.20" x2="398.12" y2="915.60" stroke="#141414" stroke-width="1" />
<line x1="404.84" y1="920.20" x2="404.84" y2="915.60" stroke="#141414" stroke-width="1" />
<line x1="410.33" y1="920.20" x2="410.33" y2="915.60" stroke="#141414" stroke-width="1" />
<line x1="414.97" y1="920.20" x2="414.97" y2="915.60" stroke="#141414" stroke-width="1" />
<line x1="418.98" y1="920.20" x2="418.98" y2="915.60" stroke="#141414" stroke-width="1" />
<line x1="422.53" y1="920.20" x2="422.53" y2="915.60" stroke="#141414" stroke-width="1" />
<line x1="425.70" y1="920.20" x2="425.70" y2="910.70" stroke="#141414" stroke-width="1" />
<line x1="447.49" y1="920.20" x2="447.49" y2="915.60" stroke="#141414" stroke-width="1" />
<line x1="460.24" y1="920.20" x2="460.24" y2="915.60" stroke="#141414" stroke-width="1" />
<line x1="469.29" y1="920.20" x2="469.29" y2="915.60" stroke="#141414" stroke-width="1" />
<line x1="476.31" y1="920.20" x2="476.31" y2="915.60" stroke="#141414" stroke-width="1" />
<line x1="482.04" y1="920.20" x2="482.04" y2="915.60" stroke="#141414" stroke-width="1" />
<line x1="486.89" y1="920.20" x2="486.89" y2="915.60" stroke="#141414" stroke-width="1" />
<line x1="491.08" y1="920.20" x2="491.08" y2="915.60" stroke="#141414" stroke-width="1" />
<line x1="494.79" y1="920.20" x2="494.79" y2="915.60" stroke="#141414" stroke-width="1" />
<line x1="72.30" y1="858.20" x2="82.70" y2="858.20" stroke="#141414" stroke-width="1" />
<line x1="498.10" y1="858.20" x2="487.70" y2="858.20" stroke="#141414" stroke-width="1" />
<line x1="72.30" y1="796.20" x2="82.70" y2="796.20" stroke="#141414" stroke-width="1" />
<line x1="498.10" y1="796.20" x2="487.70" y2="796.20" stroke="#141414" stroke-width="1" />
<line x1="72.30" y1="734.20" x2="82.70" y2="734.20" stroke="#141414" stroke-width="1" />
<line x1="498.10" y1="734.20" x2="487.70" y2="734.20" stroke="#141414" stroke-width="1" />
<line x1="72.30" y1="672.20" x2="82.70" y2="672.20" stroke="#141414" stroke-width="1" />
<line x1="498.10" y1="672.20" x2="487.70" y2="672.20" stroke="#141414" stroke-width="1" />
<line x1="72.30" y1="610.20" x2="82.70" y2="610.20" stroke="#141414" stroke-width="1" />
<line x1="498.10" y1="610.20" x2="487.70" y2="610.20" stroke="#141414" stroke-width="1" />
<text x="62.00" y="925.60" font-size="20" text-anchor="end" font-weight="normal" font-family="Liberation Sans, Arial, Helvetica, sans-serif" fill="#141414" stroke="#141414" stroke-width="0.5" >0</text>
<text x="62.00" y="863.60" font-size="20" text-anchor="end" font-weight="normal" font-family="Liberation Sans, Arial, Helvetica, sans-serif" fill="#141414" stroke="#141414" stroke-width="0.5" >20</text>
<text x="62.00" y="801.60" font-size="20" text-anchor="end" font-weight="normal" font-family="Liberation Sans, Arial, Helvetica, sans-serif" fill="#141414" stroke="#141414" stroke-width="0.5" >40</text>
<text x="62.00" y="739.60" font-size="20" text-anchor="end" font-weight="normal" font-family="Liberation Sans, Arial, Helvetica, sans-serif" fill="#141414" stroke="#141414" stroke-width="0.5" >60</text>
<text x="62.00" y="677.60" font-size="20" text-anchor="end" font-weight="normal" font-family="Liberation Sans, Arial, Helvetica, sans-serif" fill="#141414" stroke="#141414" stroke-width="0.5" >80</text>
<text x="62.00" y="615.60" font-size="20" text-anchor="end" font-weight="normal" font-family="Liberation Sans, Arial, Helvetica, sans-serif" fill="#141414" stroke="#141414" stroke-width="0.5" >100</text>
<text x="62.00" y="553.60" font-size="20" text-anchor="end" font-weight="normal" font-family="Liberation Sans, Arial, Helvetica, sans-serif" fill="#141414" stroke="#141414" stroke-width="0.5" >120</text>
<text x="78.30" y="943.20" font-size="20" text-anchor="end" font-weight="normal" font-family="Liberation Sans, Arial, Helvetica, sans-serif" fill="#141414" stroke="#141414" stroke-width="0.5" >10</text>
<text x="78.90" y="932.40" font-size="14.5" text-anchor="start" font-weight="normal" font-family="Liberation Sans, Arial, Helvetica, sans-serif" fill="#141414" stroke="#141414" stroke-width="0.5" >-11</text>
<text x="150.05" y="943.20" font-size="20" text-anchor="end" font-weight="normal" font-family="Liberation Sans, Arial, Helvetica, sans-serif" fill="#141414" stroke="#141414" stroke-width="0.5" >10</text>
<text x="150.65" y="932.40" font-size="14.5" text-anchor="start" font-weight="normal" font-family="Liberation Sans, Arial, Helvetica, sans-serif" fill="#141414" stroke="#141414" stroke-width="0.5" >-10</text>
<text x="222.00" y="943.20" font-size="20" text-anchor="end" font-weight="normal" font-family="Liberation Sans, Arial, Helvetica, sans-serif" fill="#141414" stroke="#141414" stroke-width="0.5" >10</text>
<text x="222.60" y="932.40" font-size="14.5" text-anchor="start" font-weight="normal" font-family="Liberation Sans, Arial, Helvetica, sans-serif" fill="#141414" stroke="#141414" stroke-width="0.5" >-9</text>
<text x="293.80" y="943.20" font-size="20" text-anchor="end" font-weight="normal" font-family="Liberation Sans, Arial, Helvetica, sans-serif" fill="#141414" stroke="#141414" stroke-width="0.5" >10</text>
<text x="294.40" y="932.40" font-size="14.5" text-anchor="start" font-weight="normal" font-family="Liberation Sans, Arial, Helvetica, sans-serif" fill="#141414" stroke="#141414" stroke-width="0.5" >-8</text>
<text x="363.10" y="943.20" font-size="20" text-anchor="end" font-weight="normal" font-family="Liberation Sans, Arial, Helvetica, sans-serif" fill="#141414" stroke="#141414" stroke-width="0.5" >10</text>
<text x="363.70" y="932.40" font-size="14.5" text-anchor="start" font-weight="normal" font-family="Liberation Sans, Arial, Helvetica, sans-serif" fill="#141414" stroke="#141414" stroke-width="0.5" >-7</text>
<text x="433.50" y="943.20" font-size="20" text-anchor="end" font-weight="normal" font-family="Liberation Sans, Arial, Helvetica, sans-serif" fill="#141414" stroke="#141414" stroke-width="0.5" >10</text>
<text x="434.10" y="932.40" font-size="14.5" text-anchor="start" font-weight="normal" font-family="Liberation Sans, Arial, Helvetica, sans-serif" fill="#141414" stroke="#141414" stroke-width="0.5" >-6</text>
<text x="504.00" y="943.20" font-size="20" text-anchor="end" font-weight="normal" font-family="Liberation Sans, Arial, Helvetica, sans-serif" fill="#141414" stroke="#141414" stroke-width="0.5" >10</text>
<text x="504.60" y="932.40" font-size="14.5" text-anchor="start" font-weight="normal" font-family="Liberation Sans, Arial, Helvetica, sans-serif" fill="#141414" stroke="#141414" stroke-width="0.5" >-5</text>
<text x="-2.50" y="527.00" font-size="35" text-anchor="start" font-weight="bold" font-family="Liberation Sans, Arial, Helvetica, sans-serif" fill="#141414" stroke="#141414" stroke-width="0.5" >F</text>
<text x="282.00" y="520.00" font-size="24.7" text-anchor="middle" font-weight="bold" font-family="Liberation Sans, Arial, Helvetica, sans-serif" fill="#141414" stroke="#141414" stroke-width="0.5" >Doxorubicin +/-ZB4</text>
<text x="286.50" y="995.20" font-size="20.2" text-anchor="middle" font-weight="normal" font-family="Liberation Sans, Arial, Helvetica, sans-serif" fill="#141414" stroke="#141414" stroke-width="0.5" >Doxorubicin (M)</text>
<text transform="translate(17.20,741.00) rotate(-90)" font-size="20.2" text-anchor="middle" font-weight="normal" font-family="Liberation Sans, Arial, Helvetica, sans-serif" fill="#141414" stroke="#141414" stroke-width="0.5">% Survival</text>
<polyline points="72.30,603.07 143.90,557.19 213.50,581.99 284.50,573.00 356.40,563.70 425.70,635.00 498.10,807.05" fill="none" stroke="#141414" stroke-width="1.5" stroke-linecap="butt" stroke-linejoin="miter"/>
<polyline points="72.30,621.98 143.90,604.00 213.50,596.87 284.50,588.50 356.40,586.95 425.70,647.40 498.10,805.50" fill="none" stroke="#141414" stroke-width="1.5" stroke-linecap="butt" stroke-linejoin="miter"/>
<polyline points="72.30,620.12 143.90,716.53 213.50,820.38 284.50,833.71 356.40,884.55 425.70,920.20 498.10,918.65" fill="none" stroke="#141414" stroke-width="1.5" stroke-linecap="butt" stroke-linejoin="miter"/>
<polyline points="72.30,648.33 143.90,719.63 213.50,816.35 284.50,818.83 356.40,904.70 425.70,920.20 498.10,917.10" fill="none" stroke="#141414" stroke-width="1.5" stroke-linecap="butt" stroke-linejoin="miter"/>
<polyline points="72.30,730.48 143.90,824.10 213.50,851.07 284.50,855.10 356.40,891.37 425.70,920.20 498.10,921.75" fill="none" stroke="#141414" stroke-width="1.5" stroke-linecap="butt" stroke-linejoin="miter"/>
<polyline points="72.30,703.20 143.90,805.50 213.50,852.93 284.50,857.27 356.40,895.40 425.70,920.20 498.10,920.20" fill="none" stroke="#141414" stroke-width="1.5" stroke-linecap="butt" stroke-linejoin="miter"/>
<polygon points="72.30,696.20 66.30,706.70 78.30,706.70" fill="#0c0c0c"/>
<polygon points="143.90,798.50 137.90,809.00 149.90,809.00" fill="#0c0c0c"/>
<polygon points="213.50,845.93 207.50,856.43 219.50,856.43" fill="#0c0c0c"/>
<polygon points="284.50,850.27 278.50,860.77 290.50,860.77" fill="#0c0c0c"/>
<polygon points="356.40,888.40 350.40,898.90 362.40,898.90" fill="#0c0c0c"/>
<polygon points="72.30,723.81 67.05,733.81 77.55,733.81" fill="none" stroke="#141414" stroke-width="1.2"/>
<polygon points="143.90,817.43 138.65,827.43 149.15,827.43" fill="none" stroke="#141414" stroke-width="1.2"/>
<polygon points="213.50,844.40 208.25,854.40 218.75,854.40" fill="none" stroke="#141414" stroke-width="1.2"/>
<polygon points="284.50,848.43 279.25,858.43 289.75,858.43" fill="none" stroke="#141414" stroke-width="1.2"/>
<polygon points="356.40,884.70 351.15,894.70 361.65,894.70" fill="#fff" stroke="#141414" stroke-width="1.2"/>
<polygon points="425.70,913.53 420.45,923.53 430.95,923.53" fill="none" stroke="#141414" stroke-width="1.2"/>
<rect x="66.40" y="616.08" width="11.8" height="11.8" fill="#0c0c0c"/>
<rect x="138.00" y="598.10" width="11.8" height="11.8" fill="#0c0c0c"/>
<rect x="207.60" y="590.97" width="11.8" height="11.8" fill="#0c0c0c"/>
<rect x="278.60" y="582.60" width="11.8" height="11.8" fill="#0c0c0c"/>
<rect x="350.50" y="581.05" width="11.8" height="11.8" fill="#0c0c0c"/>
<rect x="419.80" y="641.50" width="11.8" height="11.8" fill="#0c0c0c"/>
<rect x="492.20" y="799.60" width="11.8" height="11.8" fill="#0c0c0c"/>
<rect x="67.00" y="597.77" width="10.6" height="10.6" fill="none" stroke="#141414" stroke-width="1.2"/>
<rect x="138.60" y="551.89" width="10.6" height="10.6" fill="none" stroke="#141414" stroke-width="1.2"/>
<rect x="208.20" y="576.69" width="10.6" height="10.6" fill="none" stroke="#141414" stroke-width="1.2"/>
<rect x="279.20" y="567.70" width="10.6" height="10.6" fill="none" stroke="#141414" stroke-width="1.2"/>
<rect x="351.10" y="558.40" width="10.6" height="10.6" fill="none" stroke="#141414" stroke-width="1.2"/>
<rect x="420.40" y="629.70" width="10.6" height="10.6" fill="none" stroke="#141414" stroke-width="1.2"/>
<rect x="492.80" y="801.75" width="10.6" height="10.6" fill="none" stroke="#141414" stroke-width="1.2"/>
<circle cx="72.30" cy="648.33" r="6.5" fill="#0c0c0c"/>
<circle cx="143.90" cy="719.63" r="6.5" fill="#0c0c0c"/>
<circle cx="213.50" cy="816.35" r="6.5" fill="#0c0c0c"/>
<circle cx="284.50" cy="818.83" r="6.5" fill="#0c0c0c"/>
<circle cx="356.40" cy="904.70" r="6.5" fill="#0c0c0c"/>
<circle cx="72.30" cy="620.12" r="5.8" fill="#fff" stroke="#141414" stroke-width="1.35"/>
<circle cx="143.90" cy="716.53" r="5.8" fill="#fff" stroke="#141414" stroke-width="1.35"/>
<circle cx="213.50" cy="820.38" r="5.8" fill="#fff" stroke="#141414" stroke-width="1.35"/>
<circle cx="284.50" cy="833.71" r="5.8" fill="#fff" stroke="#141414" stroke-width="1.35"/>
<circle cx="356.40" cy="884.55" r="5.8" fill="#fff" stroke="#141414" stroke-width="1.35"/>
<circle cx="425.70" cy="920.20" r="5.6" fill="#fff" stroke="#141414" stroke-width="1.1"/>
<circle cx="425.40" cy="919.27" r="6.6" fill="#0c0c0c"/>
<circle cx="497.30" cy="915.86" r="6.3" fill="#0c0c0c"/>
<circle cx="497.50" cy="921.44" r="5.4" fill="#fff" stroke="#141414" stroke-width="1.1"/>
<polygon points="497.50,916.06 492.75,925.06 502.25,925.06" fill="none" stroke="#141414" stroke-width="1.2"/>
<rect x="236.5" y="637.3" width="142.3" height="83.20000000000005" fill="#fff" stroke="#141414" stroke-width="1"/>
<line x1="236.50" y1="710.95" x2="244.10" y2="710.95" stroke="#141414" stroke-width="1" />
<line x1="378.80" y1="710.95" x2="370.50" y2="710.95" stroke="#141414" stroke-width="1" />
<text x="223.20" y="717.55" font-size="15" text-anchor="end" font-weight="normal" font-family="Liberation Serif, Times New Roman, serif" fill="#141414" stroke="#141414" stroke-width="0.2" >70</text>
<line x1="236.50" y1="689.90" x2="244.10" y2="689.90" stroke="#141414" stroke-width="1" />
<line x1="378.80" y1="689.90" x2="370.50" y2="689.90" stroke="#141414" stroke-width="1" />
<text x="223.20" y="696.50" font-size="15" text-anchor="end" font-weight="normal" font-family="Liberation Serif, Times New Roman, serif" fill="#141414" stroke="#141414" stroke-width="0.2" >80</text>
<line x1="236.50" y1="668.85" x2="244.10" y2="668.85" stroke="#141414" stroke-width="1" />
<line x1="378.80" y1="668.85" x2="370.50" y2="668.85" stroke="#141414" stroke-width="1" />
<text x="223.20" y="675.45" font-size="15" text-anchor="end" font-weight="normal" font-family="Liberation Serif, Times New Roman, serif" fill="#141414" stroke="#141414" stroke-width="0.2" >90</text>
<line x1="236.50" y1="647.80" x2="244.10" y2="647.80" stroke="#141414" stroke-width="1" />
<line x1="378.80" y1="647.80" x2="370.50" y2="647.80" stroke="#141414" stroke-width="1" />
<text x="223.20" y="654.40" font-size="15" text-anchor="end" font-weight="normal" font-family="Liberation Serif, Times New Roman, serif" fill="#141414" stroke="#141414" stroke-width="0.2" >100</text>
<text x="236.20" y="738.00" font-size="15.5" text-anchor="middle" font-weight="normal" font-family="Liberation Serif, Times New Roman, serif" fill="#141414" stroke="#141414" stroke-width="0.2" >0</text>
<line x1="267.85" y1="720.50" x2="267.85" y2="713.50" stroke="#141414" stroke-width="1" />
<line x1="267.85" y1="637.30" x2="267.85" y2="644.30" stroke="#141414" stroke-width="1" />
<text x="267.55" y="738.00" font-size="15.5" text-anchor="middle" font-weight="normal" font-family="Liberation Serif, Times New Roman, serif" fill="#141414" stroke="#141414" stroke-width="0.2" >200</text>
<line x1="299.20" y1="720.50" x2="299.20" y2="713.50" stroke="#141414" stroke-width="1" />
<line x1="299.20" y1="637.30" x2="299.20" y2="644.30" stroke="#141414" stroke-width="1" />
<text x="298.90" y="738.00" font-size="15.5" text-anchor="middle" font-weight="normal" font-family="Liberation Serif, Times New Roman, serif" fill="#141414" stroke="#141414" stroke-width="0.2" >400</text>
<line x1="330.55" y1="720.50" x2="330.55" y2="713.50" stroke="#141414" stroke-width="1" />
<line x1="330.55" y1="637.30" x2="330.55" y2="644.30" stroke="#141414" stroke-width="1" />
<text x="330.25" y="738.00" font-size="15.5" text-anchor="middle" font-weight="normal" font-family="Liberation Serif, Times New Roman, serif" fill="#141414" stroke="#141414" stroke-width="0.2" >600</text>
<line x1="361.90" y1="720.50" x2="361.90" y2="713.50" stroke="#141414" stroke-width="1" />
<line x1="361.90" y1="637.30" x2="361.90" y2="644.30" stroke="#141414" stroke-width="1" />
<text x="361.60" y="738.00" font-size="15.5" text-anchor="middle" font-weight="normal" font-family="Liberation Serif, Times New Roman, serif" fill="#141414" stroke="#141414" stroke-width="0.2" >800</text>
<text x="308.80" y="754.20" font-size="15.2" text-anchor="middle" font-weight="bold" font-family="Liberation Serif, Times New Roman, serif" fill="#141414" stroke="#141414" stroke-width="0.2" >CH-11 (ng/ml)</text>
<text transform="translate(196.60,680.40) rotate(-90)" font-size="15.3" text-anchor="middle" font-weight="bold" font-family="Liberation Serif, Times New Roman, serif" fill="#141414" stroke="#141414" stroke-width="0.2">% Survival</text>
<polyline points="236.50,647.80 244.34,655.17 252.18,647.17" fill="none" stroke="#141414" stroke-width="1.6" stroke-linecap="butt" stroke-linejoin="miter"/>
<polyline points="252.18,647.17 267.85,655.80" fill="none" stroke="#141414" stroke-width="2" stroke-linecap="butt" stroke-linejoin="miter" stroke-dasharray="6 30" stroke-dashoffset="-4"/>
<polyline points="267.85,655.80 299.20,655.80" fill="none" stroke="#141414" stroke-width="2" stroke-linecap="butt" stroke-linejoin="miter" stroke-dasharray="5.5 4.5" stroke-dashoffset="-1"/>
<polyline points="299.20,655.80 330.55,653.69 349.36,651.59 361.90,648.85" fill="none" stroke="#141414" stroke-width="2" stroke-linecap="butt" stroke-linejoin="miter" stroke-dasharray="5.5 4.5" stroke-dashoffset="-1"/>
<polyline points="236.50,647.80 244.34,682.74 252.18,695.58 267.85,697.69 299.20,699.37 361.90,702.53" fill="none" stroke="#141414" stroke-width="3.6" stroke-linecap="butt" stroke-linejoin="round"/>
<circle cx="244.34" cy="655.17" r="3.6" fill="#fff" stroke="#141414" stroke-width="1.3"/>
<circle cx="252.18" cy="647.17" r="3.6" fill="#fff" stroke="#141414" stroke-width="1.3"/>
<circle cx="361.90" cy="648.85" r="3.6" fill="#fff" stroke="#141414" stroke-width="1.3"/>
<circle cx="267.85" cy="655.80" r="3.4" fill="none" stroke="#141414" stroke-width="1.3"/>
<circle cx="299.20" cy="655.80" r="3.4" fill="none" stroke="#141414" stroke-width="1.3"/>
<circle cx="236.50" cy="647.80" r="4" fill="#0c0c0c"/>
<circle cx="244.34" cy="682.74" r="4" fill="#0c0c0c"/>
<circle cx="252.18" cy="695.58" r="4" fill="#0c0c0c"/>
<circle cx="267.85" cy="697.69" r="4" fill="#0c0c0c"/>
<circle cx="299.20" cy="699.37" r="4" fill="#0c0c0c"/>
<circle cx="361.90" cy="702.53" r="4" fill="#0c0c0c"/>
</svg>
</body></html>
